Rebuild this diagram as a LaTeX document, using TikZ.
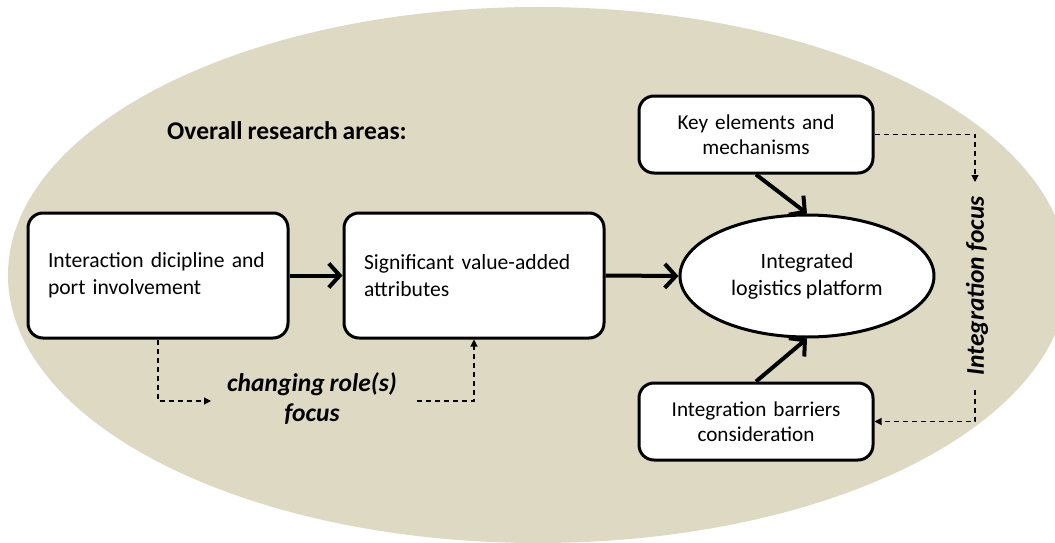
\documentclass[tikz,border=0pt]{standalone}
\usepackage{fontspec}
\setmainfont[WordSpace=0.85]{Carlito}
\usetikzlibrary{arrows.meta,shapes.geometric}
\definecolor{beige}{HTML}{DDD9C3}
\tikzset{
  box/.style={draw=black,line width=3pt,fill=white,rounded corners=15pt,inner sep=0pt,font=\fontsize{21.6}{27}\selectfont},
  leftbox/.style={box,minimum width=260pt,minimum height=125pt,text width=220pt,align=left},
  sidebox/.style={box,minimum width=234pt,minimum height=77pt,text width=220pt,align=center,font=\fontsize{21.2}{25}\selectfont},
  thick arrow/.style={line width=4pt,-{Straight Barb[length=11pt,width=24pt]}},
  dash arrow/.style={line width=1.1pt,dash pattern=on 5pt off 4pt,-{Triangle[length=7pt,width=7pt]}},
  focus label/.style={font=\fontsize{25.5}{30}\selectfont\bfseries\itshape,inner sep=0pt,align=center}
}
\begin{document}
\begin{tikzpicture}[x=1pt,y=-1pt]
\useasboundingbox (0,0) rectangle (1055,543);
\fill[beige] (538,275) ellipse [x radius=530, y radius=268];
\node[anchor=base west,inner sep=0pt,font=\fontsize{25.5}{30}\selectfont\bfseries] (title) at (167,139) {Overall research areas:};
\node[leftbox] (b1) at (158,275.5) {Interaction dicipline and\\port involvement};
\node[leftbox] (b2) at (474,275.5) {Significant value-added\\attributes};
\node[sidebox] (key) at (756,134.5) {Key elements and\\mechanisms};
\node[sidebox] (bar) at (756,421.5) {Integration barriers\\consideration};
\node[draw=black,line width=3pt,fill=white,ellipse,minimum width=254pt,minimum height=122pt,inner sep=0pt,align=center,font=\fontsize{22}{27}\selectfont] (ilp) at (807,276) {Integrated\\logistics platform};
\draw[thick arrow] (b1.east) -- (b2.west);
\draw[thick arrow] (b2.east) -- (ilp.west);
\draw[thick arrow] (key.south) -- (ilp.north);
\draw[thick arrow] (bar.north) -- (ilp.south);
\node[focus label] (crf) at (312,399) {changing role(s)\\focus};
\coordinate (c2) at (211,401);
\coordinate (c3) at (417,401);
\draw[dash arrow] (b1.south) |- (c2);
\draw[dash arrow] (c3) -| (b2.south);
\node[focus label,rotate=90] (intf) at (977,286) {Integration focus};
\coordinate (c4) at (975,182);
\coordinate (c5) at (975,390);
\draw[dash arrow] (key.east) -| (c4);
\draw[dash arrow] (c5) |- (bar.east);
\end{tikzpicture}
\end{document}
